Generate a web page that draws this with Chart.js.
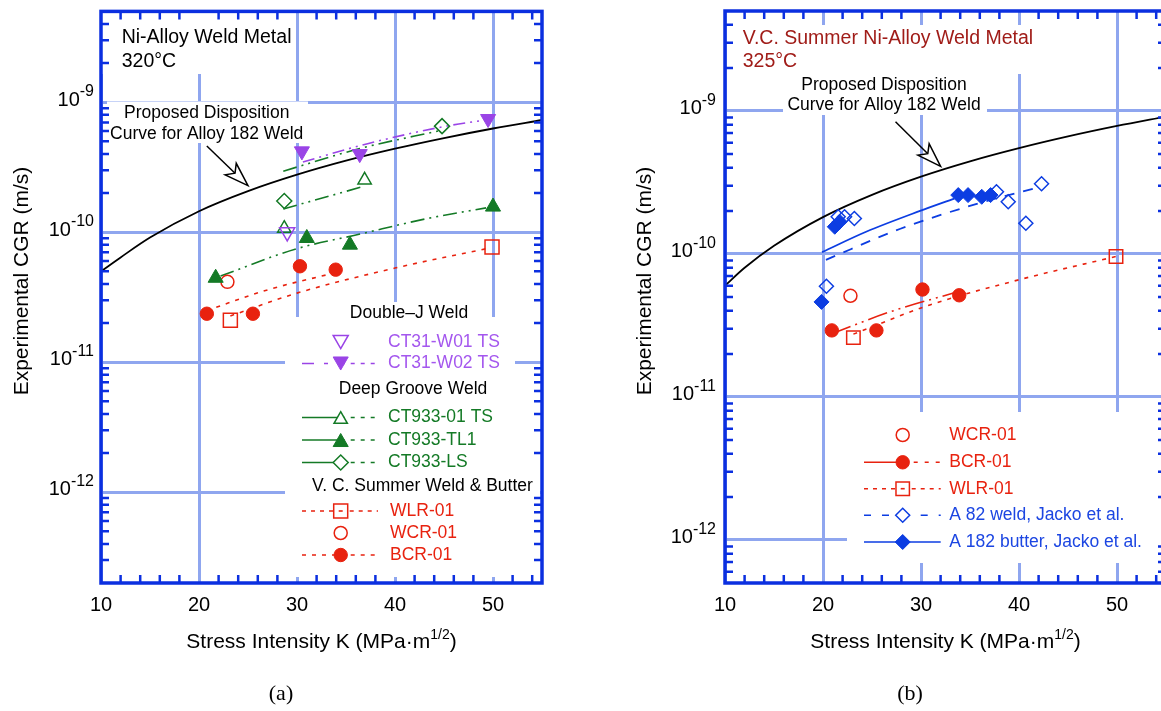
<!DOCTYPE html>
<html>
<head>
<meta charset="utf-8">
<script src="https://cdn.jsdelivr.net/npm/chart.js@4.4.1/dist/chart.umd.min.js"></script>
<style>
    html, body { margin: 0; padding: 0; background: #fff; overflow: hidden; }
    #wrap { position: relative; width: 1161px; height: 711px; overflow: hidden; }
    canvas { position: absolute; top: 0; }
    #chartA { left: 0; }
    #chartB { left: 600px; }
</style>
</head>
<body>
<div id="wrap">
    <canvas id="chartA" width="580" height="711"></canvas>
    <canvas id="chartB" width="580" height="711"></canvas>
</div>
<script>
// axis ticks
const xTicks = [10, 20, 30, 40, 50];
const yDecades = [1e-9, 1e-10, 1e-11, 1e-12];
const yTickExp = ['-9', '-10', '-11', '-12'];

// proposed disposition curve
const curveK = [10, 12, 15, 20, 25, 30, 35, 40, 45, 50, 55];
const curveA = [5.0e-11, 6.4e-11, 9.1e-11, 1.45e-10, 2.07e-10, 2.77e-10, 3.55e-10, 4.39e-10, 5.3e-10, 6.28e-10, 7.3e-10];
const curveB = [6.0e-11, 8.0e-11, 1.14e-10, 1.81e-10, 2.59e-10, 3.47e-10, 4.44e-10, 5.49e-10, 6.63e-10, 7.85e-10, 9.14e-10];

// (a) 320C data
const w01K = [29.0], w01 = [1.0e-10];
const w02K = [30.5, 36.4, 49.5], w02 = [4.2e-10, 4.0e-10, 7.45e-10];
const ts01K = [28.7, 36.9], ts01 = [1.07e-10, 2.52e-10];
const tl1K = [21.7, 31.0, 35.4, 50.0], tl1 = [4.45e-11, 9.0e-11, 8.0e-11, 1.57e-10];
const lsK = [28.7, 44.8], ls = [1.74e-10, 6.55e-10];
const wlrAK = [23.2, 49.9], wlrA = [2.1e-11, 7.7e-11];
const wcrAK = [22.9], wcrA = [4.15e-11];
const bcrAK = [20.8, 25.5, 30.3, 33.95], bcrA = [2.36e-11, 2.36e-11, 5.47e-11, 5.15e-11];

// (a) fit lines
const fitW02K = [30.6, 37.2, 45.0, 49.5], fitW02 = [3.47e-10, 4.8e-10, 6.5e-10, 7.35e-10];
const fitTs01K = [28.6, 36.7], fitTs01 = [1.51e-10, 2.24e-10];
const fitLsK = [28.6, 36.4, 44.8], fitLs = [2.95e-10, 4.4e-10, 6.1e-10];
const fitTl1K = [22.2, 29.8, 36.5, 43.2, 49.3], fitTl1 = [4.6e-11, 7.4e-11, 9.7e-11, 1.27e-10, 1.54e-10];
const fitWlrAK = [23.2, 30.0, 40.0, 49.8], fitWlrA = [2.27e-11, 3.4e-11, 5.3e-11, 7.6e-11];
const fitBcrAK = [20.8, 27.0, 34.0], fitBcrA = [2.5e-11, 3.6e-11, 4.9e-11];

// (b) 325C data
const wcrBK = [22.8], wcrB = [5.1e-11];
const bcrBK = [20.9, 25.45, 30.15, 33.9], bcrB = [2.92e-11, 2.92e-11, 5.64e-11, 5.14e-11];
const wlrBK = [23.1, 49.9], wlrB = [2.6e-11, 9.6e-11];
const a82K = [20.35, 21.55, 22.2, 23.2, 37.7, 38.9, 40.7, 42.3];
const a82 = [5.94e-11, 1.82e-10, 1.82e-10, 1.77e-10, 2.72e-10, 2.32e-10, 1.64e-10, 3.1e-10];
const a182K = [19.85, 21.2, 21.7, 33.8, 34.8, 36.2, 37.1];
const a182 = [4.62e-11, 1.55e-10, 1.68e-10, 2.58e-10, 2.58e-10, 2.51e-10, 2.58e-10];

// (b) fit lines
const fitBcrBK = [20.9, 27.0, 34.0], fitBcrB = [2.77e-11, 3.97e-11, 5.5e-11];
const fitWlrBK = [23.1, 30.9, 40.0, 49.9], fitWlrB = [2.75e-11, 4.4e-11, 6.6e-11, 9.6e-11];
const fit82K = [20.3, 27.9, 35.6, 42.2], fit82 = [9.1e-11, 1.5e-10, 2.23e-10, 2.95e-10];
const fit182K = [19.9, 24.4, 29.9, 33.4], fit182 = [1.03e-10, 1.43e-10, 2.0e-10, 2.44e-10];

// arrow from label to curve: [K, CGR] start and tip
const arrowA = [[20.8, 4.6e-10], [25.0, 2.28e-10]];
const arrowB = [[27.4, 8.4e-10], [32.0, 4.1e-10]];

const FONT = '"Liberation Sans", Arial, Helvetica, sans-serif';
const gridBlue = '#8fa6ef';
const frameBlue = '#0b2fe0';
const purple = '#9a44e6';
const purpleText = '#a457ee';
const green = '#147a26';
const red = '#e8220f';
const blue = '#0c3de2';
const blueText = '#1c46e2';
const darkRed = '#a01c18';

const pts = (xs, ys) => xs.map((x, i) => ({ x: x, y: ys[i] }));

function markers(label, xs, ys, style, color, filled, r, rot) {
    return {
        label: label, data: pts(xs, ys), showLine: false,
        pointStyle: style, pointRadius: r, pointHoverRadius: r, pointRotation: rot || 0,
        pointBorderColor: color, pointBackgroundColor: filled ? color : 'rgba(0,0,0,0)',
        pointBorderWidth: filled ? 1 : 1.5, order: 0
    };
}

function fitLine(label, xs, ys, color, dash, width) {
    return {
        label: label, data: pts(xs, ys), borderColor: color, borderWidth: width || 1.6,
        borderDash: dash, pointRadius: 0, cubicInterpolationMode: 'monotone', fill: false, order: 5
    };
}

function curve(ys) {
    return {
        label: 'Proposed Disposition Curve', data: pts(curveK, ys), borderColor: '#000',
        borderWidth: 1.8, pointRadius: 0, cubicInterpolationMode: 'monotone', fill: false, order: 10
    };
}

// draw text made of pieces (for superscripts)
function drawParts(ctx, parts, x, y, align) {
    let w = 0;
    parts.forEach(p => { ctx.font = p.font; p.w = ctx.measureText(p.t).width; w += p.w; });
    let cx = align === 'right' ? x - w : align === 'center' ? x - w / 2 : x;
    ctx.textAlign = 'left';
    parts.forEach(p => { ctx.font = p.font; ctx.fillText(p.t, cx, y - (p.rise || 0)); cx += p.w; });
}

function drawMarker(ctx, style, x, y, r, rot, color, filled) {
    ctx.save();
    ctx.strokeStyle = color;
    ctx.fillStyle = filled ? color : '#fff';
    ctx.lineWidth = filled ? 1 : 1.5;
    ctx.setLineDash([]);
    ctx.beginPath();
    if (style === 'circle') {
        ctx.arc(x, y, r, 0, Math.PI * 2);
    } else if (style === 'rect') {
        const s = Math.SQRT1_2 * r;
        ctx.rect(x - s, y - s, 2 * s, 2 * s);
    } else if (style === 'rectRot') {
        ctx.moveTo(x, y - r); ctx.lineTo(x + r, y); ctx.lineTo(x, y + r); ctx.lineTo(x - r, y);
    } else if (style === 'triangle') {
        const d = rot ? -1 : 1;
        const cy = y + d * r / 4;
        ctx.moveTo(x, cy - d * r);
        ctx.lineTo(x + r * 0.866, cy + d * r / 2);
        ctx.lineTo(x - r * 0.866, cy + d * r / 2);
    }
    ctx.closePath();
    ctx.fill();
    ctx.stroke();
    ctx.restore();
}

function drawArrow(ctx, x1, y1, x2, y2) {
    const ang = Math.atan2(y2 - y1, x2 - x1);
    const c = Math.cos(ang), s = Math.sin(ang);
    const len = 24, half = 8, notch = 18;
    const bx = x2 - len * c, by = y2 - len * s;
    const nx = x2 - notch * c, ny = y2 - notch * s;
    ctx.save();
    ctx.strokeStyle = '#000';
    ctx.lineWidth = 1.5;
    ctx.beginPath(); ctx.moveTo(x1, y1); ctx.lineTo(nx, ny); ctx.stroke();
    ctx.beginPath();
    ctx.moveTo(x2, y2);
    ctx.lineTo(bx - s * half, by + c * half);
    ctx.lineTo(nx, ny);
    ctx.lineTo(bx + s * half, by - c * half);
    ctx.closePath();
    ctx.fillStyle = '#fff';
    ctx.fill();
    ctx.stroke();
    ctx.restore();
}

function panelDecor(cfg) {
    return {
        id: 'panelDecor',
        beforeDatasetsDraw(chart) {
            const ctx = chart.ctx;
            ctx.save();
            ctx.fillStyle = '#fff';
            cfg.boxes.forEach(b => ctx.fillRect(b[0], b[1], b[2] - b[0], b[3] - b[1]));
            ctx.restore();
        },
        afterDraw(chart) {
            const ctx = chart.ctx, a = chart.chartArea;
            const xs = chart.scales.x, ys = chart.scales.y;
            ctx.save();

            // inward minor ticks
            ctx.strokeStyle = frameBlue;
            ctx.lineWidth = 2.5;
            ctx.beginPath();
            for (let k = 12; k < 55; k += 2) {
                if (k % 10 === 0) continue;
                const px = xs.getPixelForValue(k);
                ctx.moveTo(px, a.bottom); ctx.lineTo(px, a.bottom - 8);
                ctx.moveTo(px, a.top); ctx.lineTo(px, a.top + 8);
            }
            for (let e = -13; e <= -9; e++) {
                for (let m = 2; m <= 9; m++) {
                    const v = m * Math.pow(10, e);
                    if (v < ys.min * 1.01 || v > ys.max * 0.99) continue;
                    const py = ys.getPixelForValue(v);
                    ctx.moveTo(a.left, py); ctx.lineTo(a.left + 8, py);
                    ctx.moveTo(a.right, py); ctx.lineTo(a.right - 8, py);
                }
            }
            ctx.stroke();
            ctx.lineWidth = 3.5;
            ctx.strokeRect(a.left, a.top, a.right - a.left, a.bottom - a.top);

            // tick labels
            ctx.fillStyle = '#000';
            ctx.textBaseline = 'alphabetic';
            ctx.font = `20px ${FONT}`;
            ctx.textAlign = 'center';
            xTicks.forEach(v => ctx.fillText(String(v), xs.getPixelForValue(v), a.bottom + 28));
            yDecades.forEach((v, i) => {
                const py = ys.getPixelForValue(v);
                drawParts(ctx, [
                    { t: '10', font: `20px ${FONT}` },
                    { t: yTickExp[i], font: `16px ${FONT}`, rise: 9.5 }
                ], a.left - cfg.yLabelGap, py + 3.3, 'right');
            });

            // axis titles
            drawParts(ctx, [
                { t: 'Stress Intensity K (MPa\u00b7m', font: `21px ${FONT}` },
                { t: '1/2', font: `14px ${FONT}`, rise: 9 },
                { t: ')', font: `21px ${FONT}` }
            ], (a.left + a.right) / 2, a.bottom + 65, 'center');

            ctx.save();
            ctx.translate(cfg.yTitleX, 281);
            ctx.rotate(-Math.PI / 2);
            ctx.font = `21px ${FONT}`;
            ctx.textAlign = 'center';
            ctx.textBaseline = 'middle';
            ctx.fillText('Experimental CGR (m/s)', 0, 0);
            ctx.restore();

            // panel letter
            ctx.font = `22px "Liberation Serif", "Times New Roman", serif`;
            ctx.textAlign = 'center';
            ctx.fillText(cfg.letter, cfg.letterX, 700);

            // panel title
            ctx.fillStyle = cfg.titleColor;
            ctx.font = `19.5px ${FONT}`;
            ctx.textAlign = 'left';
            cfg.title.forEach((t, i) => ctx.fillText(t, cfg.titleX, cfg.titleY[i]));

            // curve label + arrow
            ctx.fillStyle = '#000';
            ctx.font = `17.5px ${FONT}`;
            ctx.textAlign = 'center';
            ctx.fillText('Proposed Disposition', cfg.labelX, cfg.labelY[0]);
            ctx.fillText('Curve for Alloy 182 Weld', cfg.labelX, cfg.labelY[1]);
            drawArrow(ctx,
                xs.getPixelForValue(cfg.arrow[0][0]), ys.getPixelForValue(cfg.arrow[0][1]),
                xs.getPixelForValue(cfg.arrow[1][0]), ys.getPixelForValue(cfg.arrow[1][1]));

            // legend
            const L = cfg.legend;
            ctx.textBaseline = 'middle';
            L.items.forEach(it => {
                ctx.font = `17.5px ${FONT}`;
                if (it.head) {
                    ctx.fillStyle = '#000';
                    ctx.textAlign = 'center';
                    ctx.fillText(it.head, it.cx, it.y);
                    return;
                }
                ctx.lineWidth = 1.6;
                ctx.strokeStyle = it.mk;
                if (it.left) {
                    ctx.setLineDash(it.left);
                    ctx.beginPath(); ctx.moveTo(L.x1, it.y); ctx.lineTo(L.mx, it.y); ctx.stroke();
                }
                if (it.right) {
                    ctx.setLineDash(it.right);
                    ctx.beginPath(); ctx.moveTo(L.mx, it.y); ctx.lineTo(L.x2, it.y); ctx.stroke();
                }
                ctx.setLineDash([]);
                drawMarker(ctx, it.style, L.mx, it.y, it.r, it.rot, it.mk, it.filled);
                if (it.through) {
                    ctx.setLineDash([]);
                    ctx.beginPath(); ctx.moveTo(L.mx - 2, it.y); ctx.lineTo(L.mx + 2, it.y); ctx.stroke();
                }
                ctx.fillStyle = it.color;
                ctx.textAlign = 'left';
                ctx.fillText(it.label, it.tx || L.tx, it.y);
            });
            ctx.restore();
        }
    };
}

function baseOptions(yMin, yWidth, padRight) {
    return {
        responsive: false,
        animation: false,
        events: [],
        layout: { padding: { left: 0, right: padRight, top: 8, bottom: 0 } },
        plugins: { legend: { display: false }, tooltip: { enabled: false } },
        scales: {
            x: {
                type: 'linear', min: 10, max: 55,
                afterBuildTicks: s => { s.ticks = xTicks.map(v => ({ value: v })); },
                afterFit: s => { s.height = 128; },
                ticks: { display: false },
                grid: { color: gridBlue, lineWidth: 3, drawTicks: false },
                border: { display: false }
            },
            y: {
                type: 'logarithmic', min: yMin, max: 5e-9,
                afterBuildTicks: s => { s.ticks = yDecades.map(v => ({ value: v })); },
                afterFit: s => { s.width = yWidth; },
                ticks: { display: false },
                grid: { color: gridBlue, lineWidth: 3, drawTicks: false },
                border: { display: false }
            }
        }
    };
}

function renderPanelA() {
    const ctx = document.getElementById('chartA').getContext('2d');
    const dd = [14, 5, 2, 5, 2, 5];
    new Chart(ctx, {
        type: 'line',
        data: {
            datasets: [
                markers('CT31-W01 TS', w01K, w01, 'triangle', purple, false, 8.7, 180),
                markers('CT31-W02 TS', w02K, w02, 'triangle', purple, true, 8.7, 180),
                markers('CT933-01 TS', ts01K, ts01, 'triangle', green, false, 7.7),
                markers('CT933-TL1', tl1K, tl1, 'triangle', green, true, 8.7),
                markers('CT933-LS', lsK, ls, 'rectRot', green, false, 7.5),
                markers('WLR-01', wlrAK, wlrA, 'rect', red, false, 9.9),
                markers('WCR-01', wcrAK, wcrA, 'circle', red, false, 6.5),
                markers('BCR-01', bcrAK, bcrA, 'circle', red, true, 6.7),
                fitLine('fit W02', fitW02K, fitW02, purple, [12, 5, 2, 5, 2, 5]),
                fitLine('fit 01 TS', fitTs01K, fitTs01, green, dd),
                fitLine('fit LS', fitLsK, fitLs, green, dd),
                fitLine('fit TL1', fitTl1K, fitTl1, green, dd),
                fitLine('fit WLR', fitWlrAK, fitWlrA, red, [4, 6]),
                fitLine('fit BCR', fitBcrAK, fitBcrA, red, [4, 6]),
                curve(curveA)
            ]
        },
        options: baseOptions(2e-13, 101, 38),
        plugins: [panelDecor({
            letter: '(a)', letterX: 281,
            yLabelGap: 7, yTitleX: 22,
            title: ['Ni-Alloy Weld Metal', '320\u00b0C'], titleColor: '#000',
            titleX: 121.7, titleY: [43.3, 66.7],
            labelX: 206.7, labelY: [117.5, 138.5],
            arrow: arrowA,
            boxes: [[101, 8, 296, 74], [107, 101.5, 308, 143], [345, 302, 475, 323],
                    [285, 317, 515, 577], [300, 474, 540, 498]],
            legend: {
                x1: 302, mx: 340.7, x2: 378, tx: 388,
                items: [
                    { head: 'Double\u2013J Weld', cx: 409, y: 313 },
                    { label: 'CT31-W01 TS', color: purpleText, mk: purple, style: 'triangle', rot: 180, filled: false, r: 8.7, y: 342 },
                    { label: 'CT31-W02 TS', color: purpleText, mk: purple, style: 'triangle', rot: 180, filled: true, r: 8.7, y: 363.5, left: [12, 10, 4, 10], right: [4, 6] },
                    { head: 'Deep Groove Weld', cx: 413, y: 389.5 },
                    { label: 'CT933-01 TS', color: green, mk: green, style: 'triangle', filled: false, r: 7.7, y: 417.5, left: [], right: [4, 6] },
                    { label: 'CT933-TL1', color: green, mk: green, style: 'triangle', filled: true, r: 8.7, y: 440, left: [], right: [4, 6] },
                    { label: 'CT933-LS', color: green, mk: green, style: 'rectRot', filled: false, r: 7.5, y: 462.5, left: [], right: [4, 6] },
                    { head: 'V. C. Summer Weld & Butter', cx: 422.5, y: 486 },
                    { label: 'WLR-01', color: red, mk: red, style: 'rect', filled: false, r: 9.9, y: 511, left: [4, 5], right: [4, 5], through: true, tx: 390 },
                    { label: 'WCR-01', color: red, mk: red, style: 'circle', filled: false, r: 6.5, y: 533, tx: 390 },
                    { label: 'BCR-01', color: red, mk: red, style: 'circle', filled: true, r: 6.7, y: 555, left: [4, 6], right: [4, 6], tx: 390 }
                ]
            }
        })]
    });
}

function renderPanelB() {
    const ctx = document.getElementById('chartB').getContext('2d');
    new Chart(ctx, {
        type: 'line',
        data: {
            datasets: [
                markers('WCR-01', wcrBK, wcrB, 'circle', red, false, 6.5),
                markers('BCR-01', bcrBK, bcrB, 'circle', red, true, 6.7),
                markers('WLR-01', wlrBK, wlrB, 'rect', red, false, 9.5),
                markers('A 182 butter, Jacko et al.', a182K, a182, 'rectRot', blue, true, 7.5),
                markers('A 82 weld, Jacko et al.', a82K, a82, 'rectRot', blue, false, 7),
                fitLine('fit BCR', fitBcrBK, fitBcrB, red, [20, 5, 2, 5, 2, 5]),
                fitLine('fit WLR', fitWlrBK, fitWlrB, red, [4, 6]),
                fitLine('fit A82', fit82K, fit82, blue, [10, 9], 1.8),
                fitLine('fit A182', fit182K, fit182, blue, [], 1.8),
                curve(curveB)
            ]
        },
        options: baseOptions(5e-13, 125, 14),
        plugins: [panelDecor({
            letter: '(b)', letterX: 310,
            yLabelGap: 9, yTitleX: 45,
            title: ['V.C. Summer Ni-Alloy Weld Metal', '325\u00b0C'], titleColor: darkRed,
            titleX: 142.7, titleY: [44, 66.7],
            labelX: 284, labelY: [89.5, 109.5],
            arrow: arrowB,
            boxes: [[130, 25, 430, 74], [183, 74, 387, 115], [247, 412, 566, 563]],
            legend: {
                x1: 264, mx: 302.7, x2: 340.7, tx: 349.3,
                items: [
                    { label: 'WCR-01', color: red, mk: red, style: 'circle', filled: false, r: 6.5, y: 435 },
                    { label: 'BCR-01', color: red, mk: red, style: 'circle', filled: true, r: 6.7, y: 462.3, left: [], right: [4, 7] },
                    { label: 'WLR-01', color: red, mk: red, style: 'rect', filled: false, r: 9.5, y: 488.7, left: [4, 5], right: [4, 5], through: true },
                    { label: 'A 82 weld, Jacko et al.', color: blueText, mk: blue, style: 'rectRot', filled: false, r: 7, y: 515.3, left: [7, 11], right: [7, 11] },
                    { label: 'A 182 butter, Jacko et al.', color: blueText, mk: blue, style: 'rectRot', filled: true, r: 7.5, y: 542, left: [], right: [] }
                ]
            }
        })]
    });
}

document.addEventListener("DOMContentLoaded", () => {
    renderPanelA();
    renderPanelB();
});
</script>
</body>
</html>
